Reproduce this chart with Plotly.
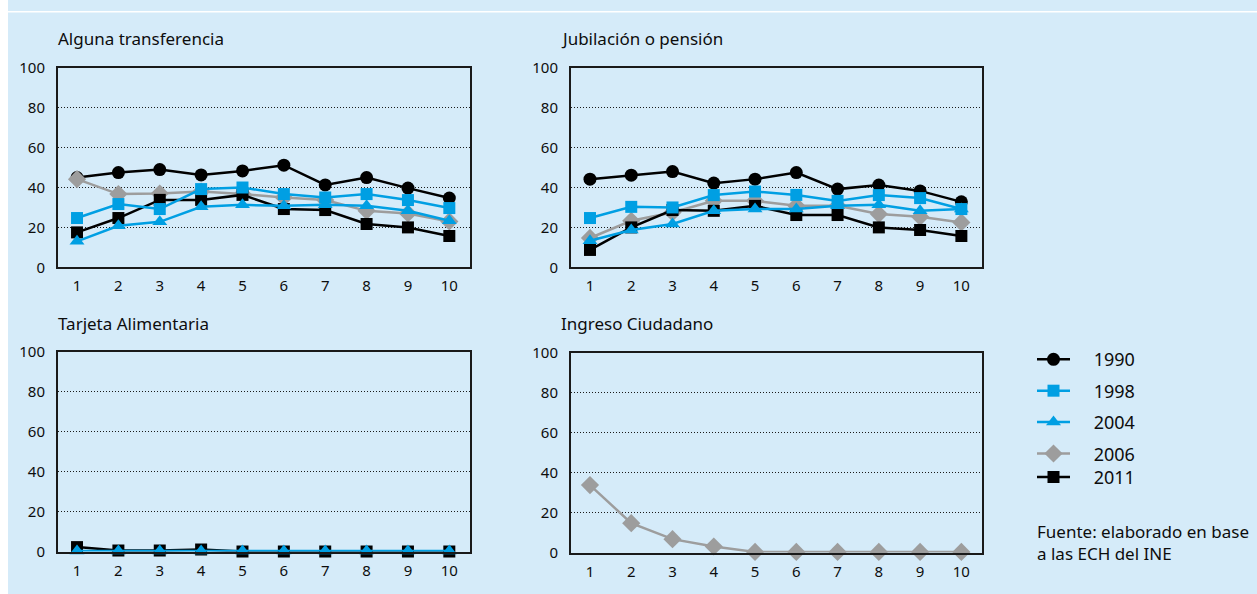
import plotly.graph_objects as go

deciles = [1, 2, 3, 4, 5, 6, 7, 8, 9, 10]
years = ["1990", "1998", "2004", "2006", "2011"]

# Alguna transferencia
alg_1990 = [45, 47.5, 49, 46.3, 48.3, 51.2, 41.3, 45, 39.7, 34.7]
alg_1998 = [24.7, 31.7, 29.2, 39.2, 40, 36.7, 35, 36.7, 33.7, 29.7]
alg_2004 = [13, 20.8, 22.8, 30.3, 31.3, 30.8, 31.3, 30.8, 28.3, 23.3]
alg_2006 = [44.2, 36.7, 37, 38, 36.7, 35, 33.7, 28.3, 27, 23]
alg_2011 = [17.5, 24.7, 33.8, 33.8, 36.3, 29.2, 28.7, 21.7, 20, 15.7]

# Jubilación o pensión
jub_1990 = [44.2, 46.2, 48, 42.2, 44.2, 47.5, 39.2, 41.2, 38.3, 32.8]
jub_1998 = [24.7, 30.3, 30, 36.2, 38, 36.3, 33.3, 36.2, 34.7, 29.2]
jub_2004 = [13.3, 18.7, 21.7, 28.3, 29.2, 29.2, 30.8, 31.3, 28.3, 29.2]
jub_2006 = [14.7, 23.3, 27.5, 33.3, 33.3, 30.8, 30.8, 26.7, 25.3, 22.5]
jub_2011 = [8.7, 20, 28.7, 28.3, 30.8, 26.2, 26.2, 20, 18.7, 15.7]

# Tarjeta Alimentaria
tar_2004 = [0.3, 0.3, 0.3, 0.3, 0.3, 0.3, 0.3, 0.3, 0.3, 0.3]
tar_2011 = [2.2, 0.5, 0.5, 1, 0, 0, 0, 0, 0, 0]

# Ingreso Ciudadano
ing_2006 = [33.8, 14.7, 6.7, 3, 0.3, 0.3, 0.3, 0.3, 0.3, 0.3]

titles = ["Alguna transferencia", "Jubilación o pensión",
          "Tarjeta Alimentaria", "Ingreso Ciudadano"]
yticks = [0, 20, 40, 60, 80, 100]
source_text = "Fuente: elaborado en base<br>a las ECH del INE"

W, H = 1257, 594
BG = "#d5ebf9"
BLACK = "#000000"
BLUE = "#009fe3"
GRAY = "#9d9d9d"
TXT = "#0d0d0d"
FONT = "Noto Sans"
PAD = "\u00a0\u00a0\u00a0\u00a0"

style = {
    "1990": dict(color=BLACK, symbol="circle", size=13),
    "1998": dict(color=BLUE, symbol="square", size=12),
    "2004": dict(color=BLUE, symbol="triangle-up", size=13),
    "2006": dict(color=GRAY, symbol="diamond", size=14),
    "2011": dict(color=BLACK, symbol="square", size=12),
}
rank = {y: i for i, y in enumerate(years)}
draw_order = ["1990", "2006", "2011", "1998", "2004"]

panels = [
    ("x", "y", {"1990": alg_1990, "1998": alg_1998, "2004": alg_2004,
                "2006": alg_2006, "2011": alg_2011}),
    ("x2", "y2", {"1990": jub_1990, "1998": jub_1998, "2004": jub_2004,
                  "2006": jub_2006, "2011": jub_2011}),
    ("x3", "y3", {"2004": tar_2004, "2011": tar_2011}),
    ("x4", "y4", {"2006": ing_2006}),
]

fig = go.Figure()
shown = set()
for xa, ya, series in panels:
    for yr in draw_order:
        if yr not in series:
            continue
        st = style[yr]
        fig.add_trace(go.Scatter(
            x=deciles, y=series[yr], xaxis=xa, yaxis=ya,
            mode="lines+markers", name=PAD + yr, legendgroup=yr,
            legend=("legend2" if yr == "2011" else "legend"),
            legendrank=rank[yr], showlegend=(yr not in shown and xa == "x"),
            line=dict(color=st["color"], width=2.5),
            marker=dict(color=st["color"], symbol=st["symbol"], size=st["size"]),
            cliponaxis=False,
        ))
    shown.update(series.keys())

# target pixel positions -> figure fractions (vertical calibration of the capture)
VS, VO = 0.969, 10.0

def px_x(p):
    return p / W

def px_y(p):
    return 1 - ((p - VO) / VS) / H

domains = [
    ((58, 470), (67, 267)),
    ((571, 982), (67, 267)),
    ((58, 470), (352, 552)),
    ((571, 982), (353, 553)),
]

leg_common = dict(xanchor="left", yanchor="top", bgcolor="rgba(0,0,0,0)",
                  font=dict(size=18, family=FONT, color=TXT),
                  tracegroupgap=5, itemwidth=33)
layout = dict(
    width=W, height=H,
    margin=dict(l=0, r=0, t=0, b=0),
    paper_bgcolor=BG, plot_bgcolor=BG,
    font=dict(family=FONT, color=TXT, size=14),
    showlegend=True,
    legend=dict(x=px_x(1032), y=px_y(341), **leg_common),
    legend2=dict(x=px_x(1032), y=px_y(459), **leg_common),
)
for i, ((x0, x1), (y0, y1)) in enumerate(domains):
    sfx = "" if i == 0 else str(i + 1)
    layout["xaxis" + sfx] = dict(
        domain=[px_x(x0), px_x(x1)], anchor="y" + sfx,
        range=[0.54, 10.5], tickvals=deciles, showgrid=False, zeroline=False,
        showline=True, mirror=True, linecolor="#1a1a1a", linewidth=2,
        ticks="", ticklabelstandoff=4, tickfont=dict(size=15, color=TXT),
    )
    layout["yaxis" + sfx] = dict(
        domain=[px_y(y1), px_y(y0)], anchor="x" + sfx,
        range=[0, 100], tickvals=yticks, showgrid=True, griddash="1px,2px",
        gridcolor="#1a1a1a", gridwidth=1, zeroline=False,
        showline=True, mirror=True, linecolor="#1a1a1a", linewidth=2,
        ticks="", ticklabelstandoff=8, tickfont=dict(size=15, color=TXT),
    )
fig.update_layout(**layout)

# white left edge and thin white stripe near the top
fig.add_shape(type="rect", xref="paper", yref="paper",
              x0=-0.01, x1=px_x(8), y0=-0.1, y1=1.1,
              fillcolor="white", line_width=0, layer="below")
fig.add_shape(type="rect", xref="paper", yref="paper",
              x0=0, x1=1, y0=px_y(11.5), y1=1,
              fillcolor="white", line_width=0, layer="below")

title_pos = [(56, 38), (559, 38), (56, 323), (559, 323)]
for t, (tx, ty) in zip(titles, title_pos):
    fig.add_annotation(text=t, xref="paper", yref="paper",
                       x=px_x(tx), y=px_y(ty), xanchor="left", yanchor="middle",
                       showarrow=False, font=dict(size=17, family=FONT, color=TXT))

fig.add_annotation(text=source_text, xref="paper", yref="paper",
                   x=px_x(1035), y=px_y(543), xanchor="left", yanchor="middle",
                   align="left", showarrow=False,
                   font=dict(size=17, family=FONT, color=TXT))

fig.write_html(
    "out.html",
    config={"displayModeBar": False},
    post_script="document.body.style.margin='0';document.body.style.overflow='hidden';",
)
